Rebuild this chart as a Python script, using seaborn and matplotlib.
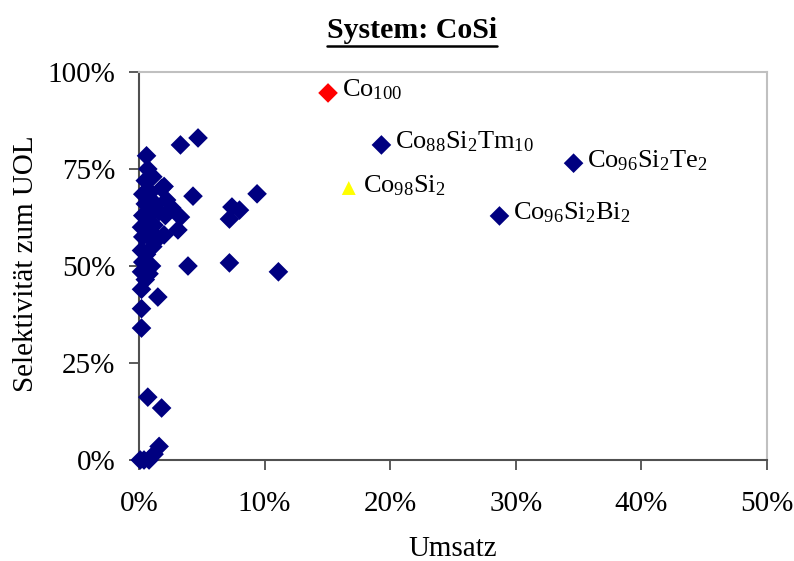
import matplotlib
matplotlib.use("Agg")
import matplotlib.pyplot as plt
import seaborn as sns
import pandas as pd
from matplotlib.ticker import FuncFormatter
from matplotlib.lines import Line2D

# Umsatz (%) and Selektivität (%) of the CoSi catalysts
blue_x = [0.1, 0.4, 0.8, 1.2, 1.6, 0.7, 1.8,
          0.2, 0.2, 0.2, 0.5, 0.2, 0.8, 0.3, 1.0, 0.2, 0.6, 1.1, 0.3, 0.8,
          1.5, 2.0, 0.2, 0.6, 1.2, 0.3, 0.9, 1.6, 2.1, 0.5, 1.3, 2.2, 2.6,
          0.3, 0.9, 1.8, 0.5, 1.1, 0.7, 0.6, 1.5, 2.0,
          3.1, 3.3, 3.3, 4.7, 4.3, 3.9, 7.2, 7.4, 8.0, 7.2, 9.4, 11.1]
blue_y = [0.0, 0.0, 0.0, 1.5, 3.5, 16.2, 13.4,
          34.0, 39.0, 44.0, 46.5, 48.5, 48.0, 51.0, 50.0, 54.0, 53.0, 55.0, 57.5, 57.5,
          57.0, 58.0, 60.0, 61.0, 60.5, 63.0, 63.5, 64.0, 63.0, 66.0, 66.0, 67.0, 65.0,
          68.5, 69.0, 70.0, 72.0, 73.0, 75.0, 78.4, 42.0, 70.5,
          59.3, 62.6, 81.2, 83.0, 68.0, 50.0, 50.8, 65.2, 64.4, 62.1, 68.6, 48.5]

# labelled catalysts
named_labels = [r"$\mathrm{Co}_{100}$",
                r"$\mathrm{Co}_{88}\mathrm{Si}_{2}\mathrm{Tm}_{10}$",
                r"$\mathrm{Co}_{96}\mathrm{Si}_{2}\mathrm{Te}_{2}$",
                r"$\mathrm{Co}_{98}\mathrm{Si}_{2}$",
                r"$\mathrm{Co}_{96}\mathrm{Si}_{2}\mathrm{Bi}_{2}$"]
named_x = [15.05, 19.3, 34.6, 16.7, 28.7]
named_y = [94.6, 81.2, 76.5, 70.1, 62.9]
named_group = ["Co", "CoSiX", "CoSiX", "CoSi", "CoSiX"]

x_ticks = [0, 10, 20, 30, 40, 50]
y_ticks = [0, 25, 50, 75, 100]

sns.set_theme(style="white")
plt.rcParams["font.family"] = ["Liberation Serif", "DejaVu Serif"]
plt.rcParams["mathtext.fontset"] = "custom"
plt.rcParams["mathtext.rm"] = "Liberation Serif"
plt.rcParams["mathtext.it"] = "Liberation Serif:italic"
plt.rcParams["mathtext.bf"] = "Liberation Serif:bold"
plt.rcParams["text.color"] = "black"
plt.rcParams["axes.labelcolor"] = "black"
plt.rcParams["xtick.color"] = "black"
plt.rcParams["ytick.color"] = "black"

df = pd.DataFrame({
    "Umsatz": blue_x + named_x,
    "Selektivitaet": blue_y + named_y,
    "Gruppe": ["CoSiX"] * len(blue_x) + named_group,
})

fig = plt.figure(figsize=(7.94, 5.61), dpi=100)
ax = fig.add_axes([139 / 794, 1 - 460 / 561, (767 - 139) / 794, (460 - 72) / 561])

sns.scatterplot(data=df, x="Umsatz", y="Selektivitaet", hue="Gruppe", style="Gruppe",
                palette={"CoSiX": "#000080", "Co": "#FF0000", "CoSi": "#FFFF00"},
                markers={"CoSiX": "D", "Co": "D", "CoSi": "^"},
                s=100, linewidth=0, legend=False, ax=ax, zorder=3, clip_on=False)

for lab, x, y in zip(named_labels, named_x, named_y):
    ax.annotate(lab, (x, y), xytext=(10, 2), textcoords="offset points",
                ha="left", va="center", fontsize=19, color="black")

ax.set_xlim(0, 50)
ax.set_ylim(0, 100)
ax.set_xticks(x_ticks)
ax.set_yticks(y_ticks)
pct = FuncFormatter(lambda v, p: f"{v:.0f}%")
ax.xaxis.set_major_formatter(pct)
ax.yaxis.set_major_formatter(pct)
ax.tick_params(axis="both", which="major", direction="out", length=7, width=1.2,
               color="#404040", labelsize=21, bottom=True, left=True)
ax.tick_params(axis="x", pad=15)
ax.tick_params(axis="y", pad=10)

for side in ["left", "bottom"]:
    ax.spines[side].set_color("#505050")
    ax.spines[side].set_linewidth(1.5)
for side in ["top", "right"]:
    ax.spines[side].set_color("#c0c0c0")
    ax.spines[side].set_linewidth(1.5)

ax.set_xlabel("Umsatz", fontsize=21)
ax.set_ylabel("Selektivität zum UOL", fontsize=21)
ax.xaxis.set_label_coords(0.5, -0.195)
ax.yaxis.set_label_coords(-0.159, 0.505)

title = fig.text(412 / 794, 1 - 31 / 561, "System: CoSi", ha="center", va="center",
                 fontsize=21.5, fontweight="bold")

# underline the title
fig.canvas.draw()
bb = title.get_window_extent().transformed(fig.transFigure.inverted())
y_line = bb.y0 - 0.002
fig.add_artist(Line2D([bb.x0, bb.x1], [y_line, y_line], color="black", linewidth=1.8,
                      transform=fig.transFigure))

fig.savefig("out.png", dpi=100)
